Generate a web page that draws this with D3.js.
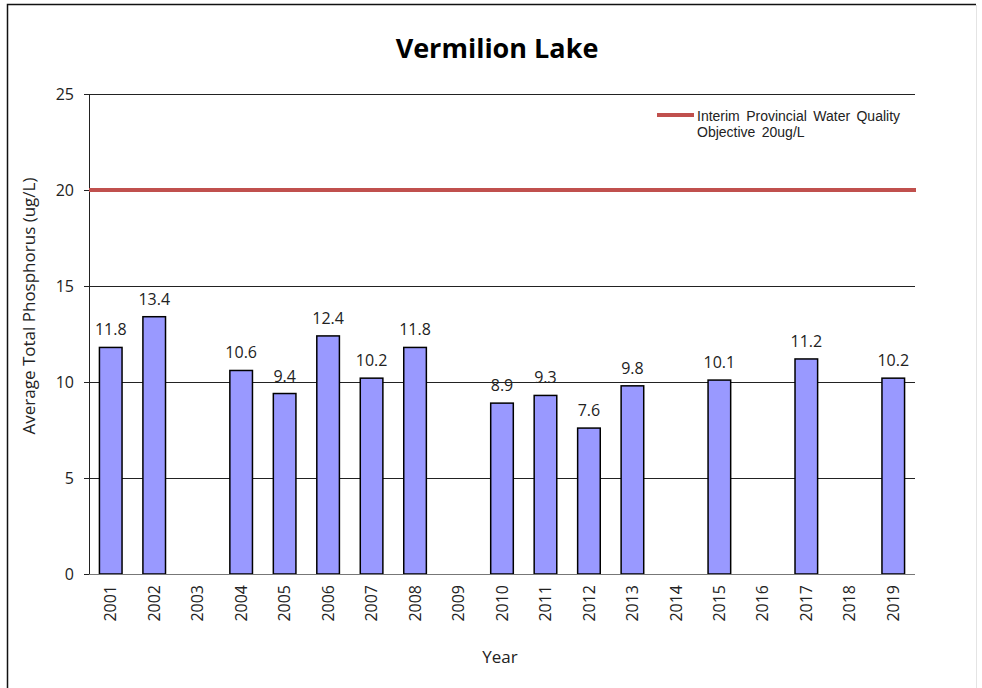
<!DOCTYPE html>
<html>
<head>
<meta charset="utf-8">
<script src="https://cdn.jsdelivr.net/npm/d3@7"></script>
<style>
  html, body { margin: 0; padding: 0; background: #fff; }
</style>
</head>
<body>
<div id="chart"></div>
<script>
// data
const years = ["2001","2002","2003","2004","2005","2006","2007","2008","2009","2010",
               "2011","2012","2013","2014","2015","2016","2017","2018","2019"];
const phosphorus = [11.8, 13.4, null, 10.6, 9.4, 12.4, 10.2, 11.8, null, 8.9,
                    9.3, 7.6, 9.8, null, 10.1, null, 11.2, null, 10.2];
const yTicks = [0, 5, 10, 15, 20, 25];
const objective = 20;
const legendLines = ["Interim Provincial Water Quality", "Objective 20ug/L"];

const width = 982, height = 688;
const margin = { top: 94, right: 67, bottom: 114, left: 89 };
const plotW = width - margin.left - margin.right;
const plotH = height - margin.top - margin.bottom;
const labelFont = "'Open Sans', 'DejaVu Sans', sans-serif";

const svg = d3.select("#chart").append("svg")
    .attr("width", width)
    .attr("height", height)
    .attr("font-family", labelFont);

// frame
svg.append("path")
    .attr("d", "M7.5,688 L7.5,4.5 L976,4.5")
    .attr("fill", "none").attr("stroke", "#111").attr("stroke-width", 1.5);
svg.append("line")
    .attr("x1", 976.5).attr("x2", 976.5).attr("y1", 5).attr("y2", 688)
    .attr("stroke", "#e4e4e4");

const x = d3.scaleBand().domain(years).range([0, plotW]).paddingInner(0.48).paddingOuter(0.24);
const y = d3.scaleLinear().domain([0, 25]).range([plotH, 0]);

const g = svg.append("g").attr("transform", `translate(${margin.left},${margin.top})`);

// gridlines
g.append("g").attr("class", "grid")
  .selectAll("line").data(yTicks.filter(d => d > 0))
  .join("line")
    .attr("x1", 0).attr("x2", plotW)
    .attr("y1", d => Math.round(y(d)) + 0.5).attr("y2", d => Math.round(y(d)) + 0.5)
    .attr("stroke", "#222").attr("stroke-width", 1);

// y axis
const yAxis = g.append("g")
  .call(d3.axisLeft(y).tickValues(yTicks).tickSize(5).tickPadding(10));
yAxis.select(".domain").attr("stroke", "#222");
yAxis.selectAll(".tick line").attr("stroke", "#222");
yAxis.selectAll("text").attr("font-size", 16).attr("fill", "#222")
    .attr("font-family", labelFont);

// objective line
g.append("line")
    .attr("x1", 0).attr("x2", plotW + 1)
    .attr("y1", y(objective)).attr("y2", y(objective))
    .attr("stroke", "#C0504D").attr("stroke-width", 4);

// bars
const present = years.map((yr, i) => ({ year: yr, value: phosphorus[i] })).filter(d => d.value != null);
g.selectAll("rect.bar").data(present)
  .join("rect").attr("class", "bar")
    .attr("x", d => x(d.year))
    .attr("y", d => y(d.value))
    .attr("width", x.bandwidth())
    .attr("height", d => plotH - y(d.value))
    .attr("fill", "#9999FF")
    .attr("stroke", "#000").attr("stroke-width", 1.5);

// value labels
g.selectAll("text.val").data(present)
  .join("text").attr("class", "val")
    .attr("x", d => x(d.year) + x.bandwidth() / 2)
    .attr("y", d => y(d.value) - 12)
    .attr("text-anchor", "middle")
    .attr("font-size", 16).attr("fill", "#222")
    .text(d => d.value.toFixed(1));

// x axis
const xAxis = g.append("g").attr("transform", `translate(0,${plotH})`)
  .call(d3.axisBottom(x).tickSize(0).tickPadding(0));
xAxis.select(".domain").attr("stroke", "#777").attr("d", `M0,0.5H${plotW}`);
xAxis.selectAll("text")
    .attr("font-size", 16).attr("fill", "#222").attr("font-family", labelFont)
    .attr("transform", "rotate(-90)")
    .attr("text-anchor", "end")
    .attr("x", -11).attr("y", 0).attr("dy", "0.35em");

// axis titles
svg.append("text")
    .attr("x", margin.left + plotW / 2 - 2).attr("y", 663)
    .attr("text-anchor", "middle").attr("font-size", 17).attr("fill", "#222")
    .text("Year");
svg.append("text")
    .attr("transform", `translate(35,${margin.top + plotH / 2 - 28}) rotate(-90)`)
    .attr("text-anchor", "middle").attr("font-size", 17).attr("fill", "#222")
    .text("Average Total Phosphorus (ug/L)");

// title
svg.append("text")
    .attr("x", 497).attr("y", 58)
    .attr("text-anchor", "middle").attr("font-size", 27).attr("font-weight", "bold")
    .attr("fill", "#000")
    .text("Vermilion Lake");

// legend
const legend = svg.append("g").attr("transform", "translate(657,115)");
legend.append("line").attr("x1", 0).attr("x2", 37).attr("y1", 0).attr("y2", 0)
    .attr("stroke", "#C0504D").attr("stroke-width", 4);
legend.selectAll("text").data(legendLines)
  .join("text")
    .attr("x", 40).attr("y", (d, i) => 6 + i * 16)
    .attr("font-family", "'Liberation Sans', Arial, sans-serif")
    .attr("font-size", 14).attr("fill", "#222")
    .attr("word-spacing", 2.5)
    .text(d => d);
</script>
</body>
</html>
